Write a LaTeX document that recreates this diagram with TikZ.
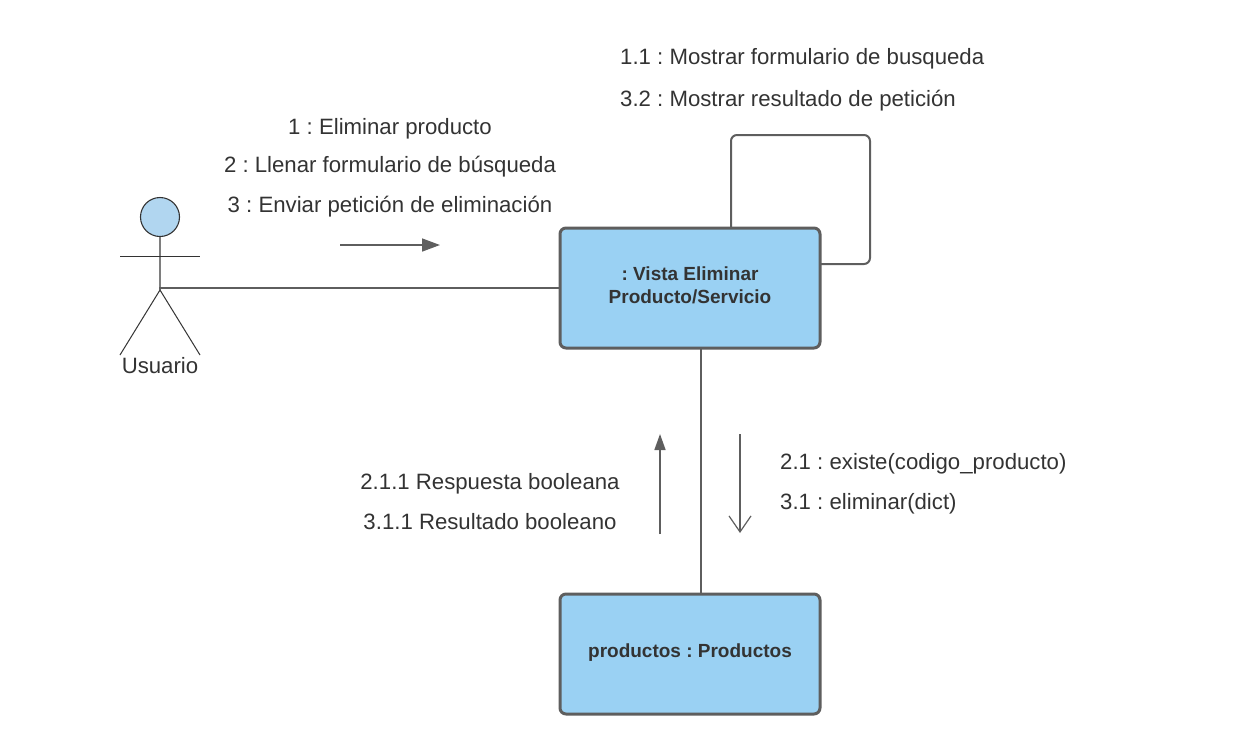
\documentclass[tikz,border=0pt]{standalone}
\usepackage{fontspec}
\setmainfont{Liberation Sans}
\usetikzlibrary{arrows.meta}
\definecolor{edge}{HTML}{5E5E5E}
\definecolor{fillblue}{HTML}{9AD1F3}
\definecolor{headblue}{HTML}{B1D6F0}
\definecolor{ink}{HTML}{333333}
\frenchspacing
\tikzset{
  x=1pt,y=-1pt,
  objbox/.style={draw=edge,line width=3pt,fill=fillblue,rounded corners=6pt,minimum width=260pt,minimum height=120pt,inner sep=0pt,align=center},
  objtext/.style={inner sep=0pt,align=center,text=ink,font=\fontsize{19}{23.4}\selectfont\bfseries},
  msg/.style={inner sep=0pt,text=ink,text height=16pt,text depth=5pt,font=\fontsize{22.2}{26}\selectfont},
  link/.style={draw=edge,line width=2pt},
  thin link/.style={draw=edge,line width=1.6pt},
  stick/.style={draw=ink,line width=1pt},
  solidhead/.style={-{Triangle[length=18pt,width=13pt,fill=edge]}},
  openhead/.style={-{Straight Barb[length=16pt,width=22pt,line width=1.2pt]}},
}
\begin{document}
\begin{tikzpicture}
\useasboundingbox (0,0) rectangle (1240,753);
% objects
\node[objbox] (vista) at (690,288) {};
\node[objtext] (vistalabel) at (690,285.3) {: Vista Eliminar\\Producto/Servicio};
\node[objbox] (prod) at (690,654) {};
\node[objtext] (prodlabel) at (690,653) {productos : Productos};
% actor
\coordinate (hip) at (160,290);
\coordinate (armL) at (120,256.5);
\coordinate (armR) at (200,256.5);
\coordinate (legL) at (120,355);
\coordinate (legR) at (200,355);
\node[circle,draw=ink,line width=1.1pt,fill=headblue,minimum size=39pt,inner sep=0pt] (head) at (160,217) {};
\draw[draw=edge!80,line width=1.3pt] (head.south) -- (hip);
\draw[stick] (armL) -- (armR);
\draw[stick] (legL) -- (hip) -- (legR);
\node[msg] (usuario) at (160,367.5) {Usuario};
% connectors
\coordinate (hipjoin) at (159,288);
\draw[link] (hipjoin) -- (vista.west);
\coordinate (loopA) at (731,228);
\coordinate (loopB) at (731,135);
\coordinate (loopC) at (870,135);
\coordinate (loopD) at (870,264);
\coordinate (loopE) at (820,264);
\draw[link,rounded corners=6pt] (loopA) -- (loopB) -- (loopC) -- (loopD) -- (loopE);
\coordinate (vbot) at (701,348);
\coordinate (pbot) at (701,594);
\draw[link] (vbot) -- (pbot);
% message arrows
\coordinate (a1s) at (340,245);
\coordinate (a1e) at (440,245);
\draw[thin link,solidhead] (a1s) -- (a1e);
\coordinate (a2s) at (660,534);
\coordinate (a2e) at (660,434);
\draw[thin link,-{Triangle[length=16pt,width=11pt,fill=edge]}] (a2s) -- (a2e);
\coordinate (a3s) at (740,434);
\coordinate (a3e) at (740,533);
\draw[draw=edge,line width=1.2pt,openhead] (a3s) -- (a3e);
% labels
\node[msg] (t1) at (390,128.5) {1 : Eliminar producto};
\node[msg] (t2) at (390,166.5) {2 : Llenar formulario de búsqueda};
\node[msg] (t3) at (390,206.5) {3 : Enviar petición de eliminación};
\node[msg,anchor=west] (t4) at (620,58.5) {1.1 : Mostrar formulario de busqueda};
\node[msg,anchor=west] (t5) at (620,100.5) {3.2 : Mostrar resultado de petición};
\node[msg] (t6) at (490,483.5) {2.1.1 Respuesta booleana};
\node[msg] (t7) at (490,523.5) {3.1.1 Resultado booleano};
\node[msg,anchor=west] (t8) at (780,463.5) {2.1 : existe(codigo\_producto)};
\node[msg,anchor=west] (t9) at (780,503.5) {3.1 : eliminar(dict)};
\end{tikzpicture}
\end{document}
